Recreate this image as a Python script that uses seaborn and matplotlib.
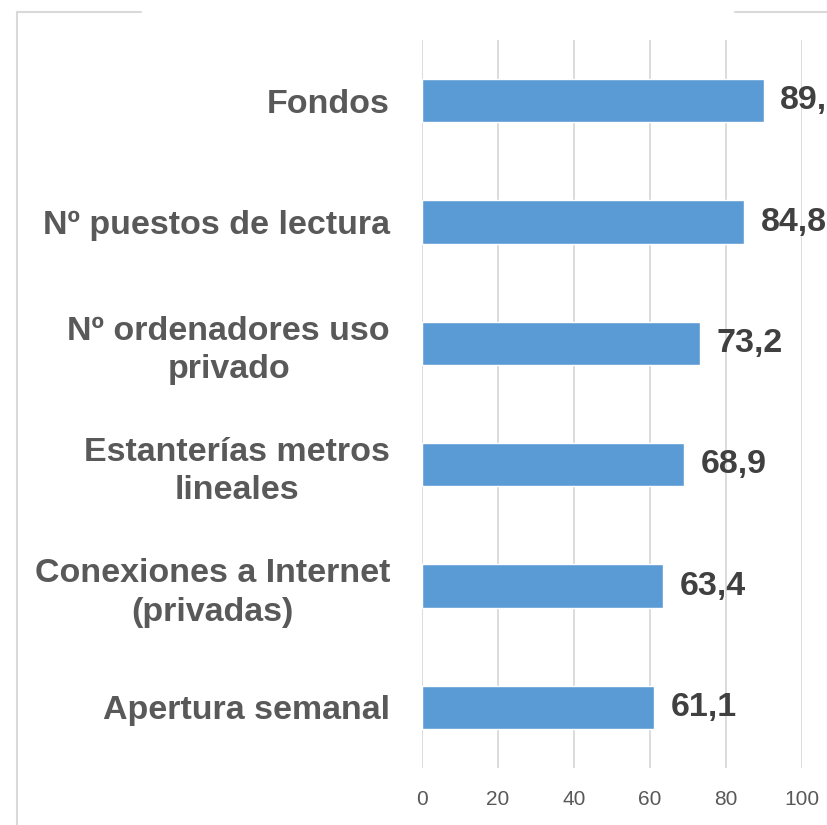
import matplotlib
matplotlib.use("Agg")
import matplotlib.pyplot as plt
import seaborn as sns
import pandas as pd
from matplotlib.lines import Line2D

# data
categories = [
    "Fondos",
    "Nº puestos de lectura",
    "Nº ordenadores uso\nprivado",
    "Estanterías metros\nlineales",
    "Conexiones a Internet\n(privadas)",
    "Apertura semanal",
]
values = [89.9, 84.8, 73.2, 68.9, 63.4, 61.1]
x_ticks = [0, 20, 40, 60, 80, 100]

df = pd.DataFrame({"categoria": categories, "valor": values})

sns.set_style("white")
plt.rcParams["font.family"] = ["Liberation Sans", "DejaVu Sans"]

fig = plt.figure(figsize=(8.27, 8.25), dpi=100)
ax = fig.add_axes([422 / 827, 1 - 768 / 825, 380 / 827, 728 / 825])

sns.barplot(data=df, y="categoria", x="valor", orient="h", color="#5B9BD5",
            saturation=1, width=0.355, ax=ax, zorder=3)

ax.set_xlim(0, 100)
ax.set_ylim(5.5, -0.5)
ax.set_xticks(x_ticks)
ax.set_xticklabels([str(t) for t in x_ticks], fontsize=15, color="#595959")
ax.set_xlabel("")
ax.set_ylabel("")
ax.grid(axis="x", color="#D9D9D9", linewidth=1.3, zorder=0)
ax.grid(axis="y", visible=False)
for s in ax.spines.values():
    s.set_visible(False)
ax.tick_params(axis="x", length=0, pad=16)
ax.tick_params(axis="y", length=0, pad=23)
for lab in ax.get_yticklabels():
    lab.set_fontsize(24.5)
    lab.set_fontweight("bold")
    lab.set_color("#595959")
    lab.set_multialignment("center")
    lab.set_linespacing(1.3)

# value labels
for i, v in enumerate(values):
    ax.annotate(f"{v:.1f}".replace(".", ","), xy=(v, i), xytext=(12, 0),
                textcoords="offset points", ha="left", va="center",
                fontsize=24.5, fontweight="bold", color="#404040",
                annotation_clip=False)

# chart-area frame (partially hidden by the title area in the source)
frame_col = "#D9D9D9"
fig.add_artist(Line2D([17 / 827, 141 / 827], [1 - 12 / 825, 1 - 12 / 825],
                      transform=fig.transFigure, color=frame_col, lw=1.5))
fig.add_artist(Line2D([735 / 827, 1], [1 - 12 / 825, 1 - 12 / 825],
                      transform=fig.transFigure, color=frame_col, lw=1.5))
fig.add_artist(Line2D([17 / 827, 17 / 827], [0, 1 - 12 / 825],
                      transform=fig.transFigure, color=frame_col, lw=1.5))

fig.savefig("out.png", dpi=100)
